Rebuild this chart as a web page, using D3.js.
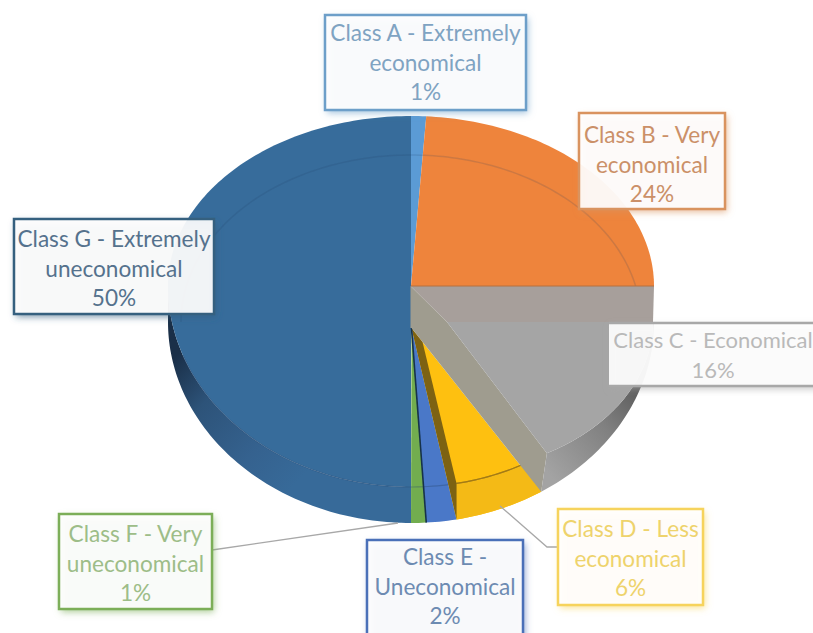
<!DOCTYPE html>
<html>
<head>
<meta charset="utf-8">
<script src="https://cdn.jsdelivr.net/npm/d3@7/dist/d3.min.js"></script>
<style>
  html, body { margin: 0; padding: 0; background: #fff; }
  svg { display: block; }
  text { font-family: Lato, "Open Sans", sans-serif; }
</style>
</head>
<body>
<svg id="chart" width="813" height="633"></svg>
<script>
// Fuel economy class shares, clockwise from twelve o'clock
const categories = ["Class A", "Class B", "Class C", "Class D", "Class E", "Class F", "Class G"];
const shares = [1, 24, 16, 6, 2, 1, 50];
const labelLines = [
  ["Class A - Extremely", "economical"],
  ["Class B - Very", "economical"],
  ["Class C - Economical"],
  ["Class D - Less", "economical"],
  ["Class E -", "Uneconomical"],
  ["Class F - Very", "uneconomical"],
  ["Class G - Extremely", "uneconomical"]
];

// Appearance of each class
const sliceColors = ["#5b9bd5", "#ee843c", "#a5a5a5", "#fec010", "#4a78c8", "#72ad4f", "#376c9b"];
const borderColors = ["#6d9fc9", "#d9935f", "#a8a8a8", "#f6d35c", "#4a70b8", "#7cae58", "#35607f"];
const textColors = ["#7fa3c2", "#cb9068", "#b9b9b9", "#eed36c", "#6d8bb2", "#9dbd88", "#55728d"];

// Callout boxes: x0, y0, x1, y1
const boxes = [
  [325, 15, 526, 110],
  [579, 113, 725, 209],
  [609, 323, 830, 386],
  [558, 509, 703, 605],
  [367, 540, 523, 650],
  [59, 514, 212, 609],
  [14, 219, 214, 314]
];
const lineGap = 29.7;
const firstBaseline = [41, 143, 348, 537, 565, 542, 247];

// Pie projection: an ellipse flattened unevenly to suggest perspective
const cx = 411, cy = 286, rx = 243, ryBack = 170, ryFront = 201, depth = 36;
const rim = (cxx, cyy, a, back, front) => t => {
  const c = Math.cos(t);
  return [cxx + a * Math.sin(t), cyy - (c > 0 ? back : front) * c];
};
const topRim = rim(cx, cy, rx, ryBack, ryFront);
const baseRim = rim(cx, cy + depth, rx, ryBack, ryFront);
// The exploded class C face has its own smaller ellipse
const faceApex = [447, 322];
const faceRim = rim(faceApex[0], faceApex[1], 206, 150, 150);
const faceSweepExtra = 3.4 * Math.PI / 180;
const lowerApex = [411.5, 328];

const arcPoints = (fn, a0, a1) => {
  const n = Math.max(2, Math.ceil(Math.abs(a1 - a0) / 0.02));
  return d3.range(n + 1).map(i => fn(a0 + (a1 - a0) * i / n));
};
const poly = d3.line().curve(d3.curveLinear);
const closed = pts => poly(pts) + "Z";

const arcs = d3.pie().sort(null).value(d => d)(shares);
const span = i => [arcs[i].startAngle, arcs[i].endAngle];

const svg = d3.select("#chart");
const defs = svg.append("defs");

const gradient = (id, x1, y1, x2, y2, stops) => {
  const g = defs.append("linearGradient").attr("id", id)
    .attr("gradientUnits", "userSpaceOnUse")
    .attr("x1", x1).attr("y1", y1).attr("x2", x2).attr("y2", y2);
  stops.forEach(([o, c]) => g.append("stop").attr("offset", o).attr("stop-color", c));
};
gradient("gWall", 172, 360, 300, 480, [[0, "#1a2f48"], [0.3, "#2d5379"], [0.7, "#35628f"], [1, "#376a99"]]);
gradient("cWall", 640, 390, 545, 470, [[0, "#5c5c5c"], [0.4, "#808080"], [1, "#a3a3a3"]]);

categories.forEach((name, i) => {
  const f = defs.append("filter").attr("id", "shadow" + i)
    .attr("x", "-15%").attr("y", "-15%").attr("width", "130%").attr("height", "130%");
  f.append("feDropShadow").attr("dx", 2).attr("dy", 3).attr("stdDeviation", 3.5)
    .attr("flood-color", borderColors[i]).attr("flood-opacity", 0.7);
});

const pie = svg.append("g");
const A = 0, B = 1, C = 2, D = 3, E = 4, F = 5, G = 6;
const center = [cx, cy];

// Class G: outer wall, then the face
const [gStart, gEnd] = span(G);
const gMid = (gStart + gEnd) / 2;
pie.append("path")
  .attr("d", closed([...arcPoints(baseRim, gStart, gMid), ...arcPoints(topRim, gMid, gStart)]))
  .attr("fill", "url(#gWall)");
pie.append("path")
  .attr("d", closed([center, ...arcPoints(topRim, gStart, gEnd)]))
  .attr("fill", sliceColors[G]);

// Classes A and B stay in the back plane
[A, B].forEach(i => {
  const [a0, a1] = span(i);
  pie.append("path")
    .attr("d", closed([center, ...arcPoints(topRim, a0, a1)]))
    .attr("fill", sliceColors[i]);
});

// Classes D, E and F radiate from a lower apex
[D, E, F].forEach(i => {
  const [a0, a1] = span(i);
  pie.append("path")
    .attr("d", closed([lowerApex, ...arcPoints(baseRim, a0, a1)]))
    .attr("fill", sliceColors[i]);
});
const [d0, d1] = span(D);
pie.append("path")
  .attr("d", closed([...arcPoints(topRim, d0, d1), ...arcPoints(baseRim, d1, d0)]))
  .attr("fill", "#f4ba16");

// Rim lines seen through the glassy surface
pie.append("path")
  .attr("d", poly(arcPoints(rim(cx, cy + depth, 230, 167, 167), -Math.PI / 2, Math.PI / 2)))
  .attr("fill", "none").attr("stroke", "#1f3f66").attr("stroke-opacity", 0.16).attr("stroke-width", 1.5);
pie.append("path")
  .attr("d", poly(arcPoints(topRim, d0, gMid - 0.35)))
  .attr("fill", "none").attr("stroke", "#2a4a70").attr("stroke-opacity", 0.38).attr("stroke-width", 1.2);
pie.append("path")
  .attr("d", poly(arcPoints(topRim, d0, d1)))
  .attr("fill", "none").attr("stroke", "#a67a10").attr("stroke-width", 1.2);

// Dark inner wall on the left of class D
const wallStep = d3.interpolate(lowerApex, baseRim(d0));
pie.append("path")
  .attr("d", closed([lowerApex, wallStep(0.085), topRim(d1), baseRim(d1)]))
  .attr("fill", "#7d6212");

// Dark seam between classes E and F
pie.append("path")
  .attr("d", poly([lowerApex, baseRim(span(F)[0])]))
  .attr("stroke", "#16324a").attr("stroke-width", 1.6).attr("fill", "none");

// Class C: inner walls, outer wall and face
const [c0, c1] = span(C);
const faceEnd = faceRim(c1 + faceSweepExtra);
pie.append("path")
  .attr("d", closed([[cx - 0.5, cy], topRim(c0), faceRim(c0), faceApex]))
  .attr("fill", "#a79f9b");
pie.append("path")
  .attr("d", closed([[cx - 0.5, cy], faceApex, faceEnd, baseRim(c1), lowerApex, [cx - 0.5, lowerApex[1]]]))
  .attr("fill", "#9f9c8f");
pie.append("path")
  .attr("d", closed([...arcPoints(faceRim, c0, c1 + faceSweepExtra), baseRim(c1), ...arcPoints(baseRim, c1, c0)]))
  .attr("fill", "url(#cWall)");
pie.append("path")
  .attr("d", closed([faceApex, ...arcPoints(faceRim, c0, c1 + faceSweepExtra)]))
  .attr("fill", sliceColors[C]);
// Seam where class B meets the class C wall
pie.append("path")
  .attr("d", poly([center, topRim(c0)]))
  .attr("stroke", "#b7703f").attr("stroke-width", 1).attr("fill", "none");

// Leader lines for the two outlying callouts
const leaders = [
  [[212, 550], [398, 523]],
  [[500, 506], [547, 547], [558, 547]]
];
leaders.forEach(pts => {
  svg.append("path").attr("d", poly(pts))
    .attr("fill", "none").attr("stroke", "#a8a8a8").attr("stroke-width", 1.3);
});

// Callouts
categories.forEach((name, i) => {
  const [x0, y0, x1, y1] = boxes[i];
  const g = svg.append("g").attr("class", "callout").attr("data-class", name);
  g.append("rect")
    .attr("x", x0).attr("y", y0).attr("width", x1 - x0).attr("height", y1 - y0)
    .attr("fill", "#fff").attr("fill-opacity", 0.9)
    .attr("filter", `url(#shadow${i})`);
  const border = i === C
    ? `M${x0},${y0}H${x1}M${x0},${y1}H${x1}`
    : `M${x0},${y0}H${x1}V${y1}H${x0}Z`;
  g.append("path").attr("d", border).attr("fill", "none")
    .attr("stroke", borderColors[i]).attr("stroke-width", 2.5);
  // The class C callout runs past the page edge, so its text is centred by hand
  const mid = (i === C) ? 713 : (x0 + x1) / 2;
  const lines = [...labelLines[i], shares[i] + "%"];
  g.selectAll("text").data(lines).join("text")
    .attr("x", mid)
    .attr("y", (d, k) => firstBaseline[i] + k * lineGap)
    .attr("text-anchor", "middle")
    .attr("font-size", i === C ? 22 : 22.6)
    .attr("fill", textColors[i])
    .text(d => d);
});
</script>
</body>
</html>
